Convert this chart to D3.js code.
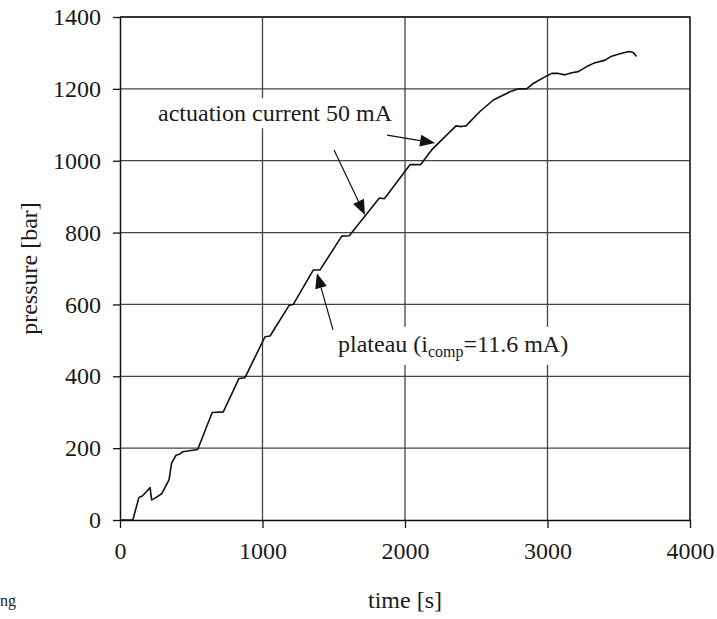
<!DOCTYPE html>
<html>
<head>
<meta charset="utf-8">
<script src="https://cdn.jsdelivr.net/npm/d3@7"></script>
<style>
  body { margin: 0; background: #fff; }
</style>
</head>
<body>
<script>
// pressure build-up over time
const time = [0, 90, 133, 157, 211, 222, 246, 292, 344, 362, 393, 421, 440, 545,
  647, 725, 835, 877, 999, 1018, 1053, 1188, 1216, 1357, 1404, 1556, 1609, 1820, 1855,
  2035, 2109, 2187, 2358, 2397, 2428, 2526, 2620, 2737, 2796, 2854, 2900, 2994, 3029,
  3076, 3123, 3170, 3216, 3275, 3322, 3404, 3450, 3520, 3574, 3602, 3625];
const pressure = [0, 0, 63, 67, 90, 56, 61, 73, 112, 158, 180, 184, 190, 196,
  299, 301, 394, 396, 495, 510, 512, 598, 600, 696, 696, 790, 791, 896, 894,
  989, 989, 1030, 1097, 1095, 1097, 1137, 1169, 1192, 1200, 1200, 1215, 1236, 1243,
  1243, 1239, 1245, 1248, 1262, 1271, 1280, 1291, 1299, 1304, 1301, 1290];

const xTicks = [0, 1000, 2000, 3000, 4000];
const yTicks = [0, 200, 400, 600, 800, 1000, 1200, 1400];

// annotation arrows in data units: [fromT, fromP, toT, toP]
const arrows = [
  [1502, 1030, 1719, 849],
  [1874, 1071, 2211, 1049],
  [1495, 529, 1382, 687]
];

const W = 717, H = 619;
const FONT = "'Liberation Serif', 'Times New Roman', serif";
const svg = d3.select("body").append("svg").attr("width", W).attr("height", H);

const x = d3.scaleLinear().domain([0, 4000]).range([120, 690]);
const y = d3.scaleLinear().domain([0, 1400]).range([520, 17]);

// grid
svg.append("g").selectAll("line")
  .data(yTicks.slice(1))
  .enter().append("line")
  .attr("x1", x(0)).attr("x2", x(4000))
  .attr("y1", d => y(d)).attr("y2", d => y(d))
  .attr("stroke", "#444").attr("stroke-width", 1.3);
svg.append("g").selectAll("line")
  .data(xTicks.slice(1))
  .enter().append("line")
  .attr("x1", d => x(d)).attr("x2", d => x(d))
  .attr("y1", y(0)).attr("y2", y(1400))
  .attr("stroke", "#444").attr("stroke-width", 1.3);

// annotation labels (white boxes hide the grid behind them)
const lab1 = svg.append("g").attr("transform", `translate(${x(267)},${y(1110)})`);
const t1 = lab1.append("text").style("font-family", FONT).style("font-size", "24px")
  .attr("fill", "#1a1a1a").text("actuation current 50 mA");
const b1 = t1.node().getBBox();
lab1.insert("rect", "text").attr("x", b1.x - 4).attr("y", b1.y - 2)
  .attr("width", b1.width + 8).attr("height", b1.height + 4).attr("fill", "#fff");

const lab2 = svg.append("g").attr("transform", `translate(${x(1530)},${y(468)})`);
const t2 = lab2.append("text").style("font-family", FONT).style("font-size", "24px")
  .attr("fill", "#1a1a1a");
t2.append("tspan").text("plateau (i");
t2.append("tspan").style("font-size", "16px").attr("dy", 5).text("comp");
t2.append("tspan").attr("dy", -5).text("=11.6 mA)");
const b2 = t2.node().getBBox();
lab2.insert("rect", "text").attr("x", b2.x - 4).attr("y", b2.y - 4)
  .attr("width", b2.width + 8).attr("height", b2.height + 8).attr("fill", "#fff");

// axes
const yAxis = d3.axisLeft(y).tickValues(yTicks).tickFormat(d3.format("d"))
  .tickSize(7).tickSizeOuter(0).tickPadding(12);
const xAxis = d3.axisBottom(x).tickValues(xTicks).tickFormat(d3.format("d"))
  .tickSize(8).tickSizeOuter(0).tickPadding(14);

const gy = svg.append("g").attr("transform", `translate(${x(0)},0)`).call(yAxis);
const gx = svg.append("g").attr("transform", `translate(0,${y(0)})`).call(xAxis);
[gy, gx].forEach(g => {
  g.select(".domain").attr("stroke", "#111").attr("stroke-width", 1.5);
  g.selectAll(".tick line").attr("stroke", "#111").attr("stroke-width", 1.3);
  g.selectAll(".tick text").style("font-size", "24px")
    .style("font-family", FONT).attr("fill", "#1a1a1a");
});

// frame top/right
svg.append("path")
  .attr("d", `M${x(0)},${y(1400)}H${x(4000)}V${y(0)}`)
  .attr("fill", "none").attr("stroke", "#222").attr("stroke-width", 1.3);

// curve
const line = d3.line().x((d, i) => x(time[i])).y(d => y(d));
svg.append("path").datum(pressure)
  .attr("d", line)
  .attr("fill", "none").attr("stroke", "#111").attr("stroke-width", 1.6)
  .attr("stroke-linejoin", "round");

// arrows
arrows.forEach(a => {
  const x1 = x(a[0]), y1 = y(a[1]), x2 = x(a[2]), y2 = y(a[3]);
  const ang = Math.atan2(y2 - y1, x2 - x1);
  const L = 15, hw = 6;
  const bx = x2 - L * Math.cos(ang), by = y2 - L * Math.sin(ang);
  svg.append("line").attr("x1", x1).attr("y1", y1).attr("x2", bx).attr("y2", by)
    .attr("stroke", "#111").attr("stroke-width", 1.2);
  svg.append("path")
    .attr("d", `M${x2},${y2}L${bx + hw * Math.sin(ang)},${by - hw * Math.cos(ang)}L${bx - hw * Math.sin(ang)},${by + hw * Math.cos(ang)}Z`)
    .attr("fill", "#111");
});

// axis titles
svg.append("text").attr("x", x(2000)).attr("y", 608)
  .attr("text-anchor", "middle").style("font-family", FONT).style("font-size", "24px")
  .attr("fill", "#1a1a1a").text("time [s]");
svg.append("text")
  .attr("transform", `translate(37,${(y(0) + y(1400)) / 2}) rotate(-90)`)
  .attr("text-anchor", "middle").style("font-family", FONT).style("font-size", "24px")
  .attr("fill", "#1a1a1a").text("pressure [bar]");

// leftover caption fragment at the bottom edge
svg.append("text").attr("x", 0).attr("y", 606)
  .style("font-family", FONT).style("font-size", "16px").attr("fill", "#1a1a1a").text("ng");
</script>
</body>
</html>
